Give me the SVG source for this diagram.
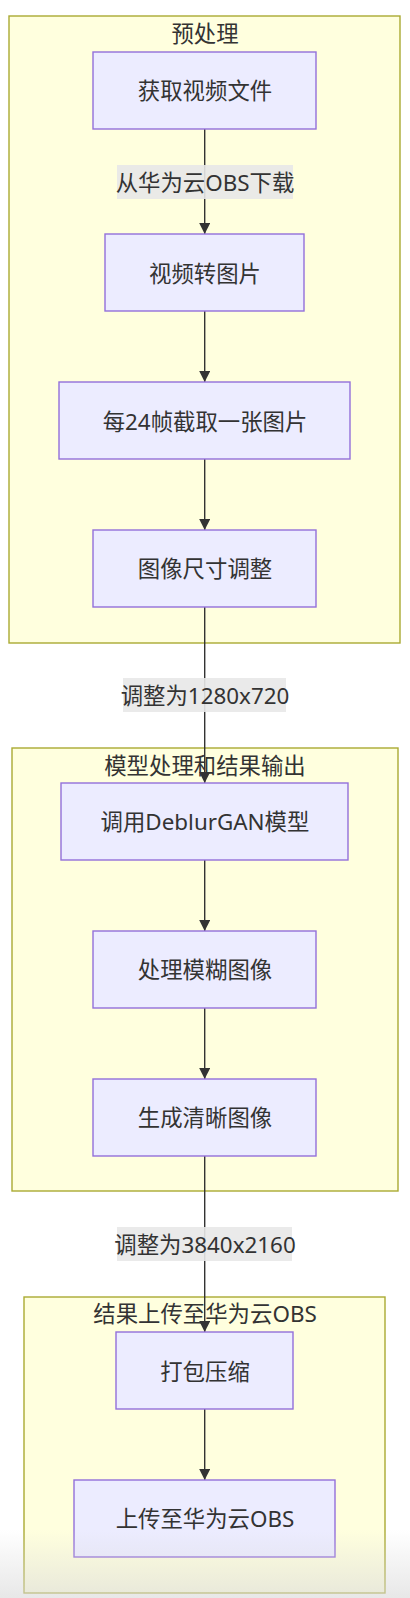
<svg xmlns="http://www.w3.org/2000/svg" width="410" height="1598" viewBox="0 0 410 1598">
<style>
.cluster{fill:#ffffde;stroke:#aaaa33;stroke-width:1.4}
.node rect{fill:#ececff;stroke:#9370db;stroke-width:1.4}
text{font-family:"Noto Sans","Noto Sans CJK SC",sans-serif;font-size:22.4px;fill:#333333;text-anchor:middle;dominant-baseline:central}
.edge{stroke:#333333;stroke-width:1.4;fill:none}
.lblbg{fill:#e8e8e8;opacity:0.9}
</style>
<defs>
<marker id="arr" viewBox="0 0 12 12" refX="12" refY="6" markerWidth="11" markerHeight="11" markerUnits="userSpaceOnUse" orient="auto">
<path d="M0,0 L12,6 L0,12 z" fill="#333333"/>
</marker>
<linearGradient id="shade" x1="0" y1="0" x2="0" y2="1">
<stop offset="0" stop-color="#d8d8d8" stop-opacity="0"/>
<stop offset="1" stop-color="#d8d8d8" stop-opacity="0.6"/>
</linearGradient>
</defs>

<g id="cluster-preprocess">
<rect class="cluster" x="9" y="16" width="391" height="627"/>
<text x="205" y="33">预处理</text>
</g>
<g id="cluster-model">
<rect class="cluster" x="12" y="748" width="386" height="443"/>
<text x="205" y="765">模型处理和结果输出</text>
</g>
<g id="cluster-upload">
<rect class="cluster" x="24" y="1297" width="361" height="296"/>
<text x="205" y="1313">结果上传至华为云OBS</text>
</g>

<g id="connectors">
<line class="edge" x1="204.7" y1="129" x2="204.7" y2="234" marker-end="url(#arr)"/>
<line class="edge" x1="204.7" y1="311" x2="204.7" y2="382" marker-end="url(#arr)"/>
<line class="edge" x1="204.7" y1="459" x2="204.7" y2="530" marker-end="url(#arr)"/>
<line class="edge" x1="204.7" y1="607" x2="204.7" y2="783" marker-end="url(#arr)"/>
<line class="edge" x1="204.7" y1="860" x2="204.7" y2="931" marker-end="url(#arr)"/>
<line class="edge" x1="204.7" y1="1008" x2="204.7" y2="1079" marker-end="url(#arr)"/>
<line class="edge" x1="204.7" y1="1156" x2="204.7" y2="1332" marker-end="url(#arr)"/>
<line class="edge" x1="204.7" y1="1409" x2="204.7" y2="1480" marker-end="url(#arr)"/>
<g id="label-download">
<rect class="lblbg" x="117" y="165" width="176" height="34"/>
<text x="205" y="182">从华为云OBS下载</text>
</g>
<g id="label-1280">
<rect class="lblbg" x="123" y="678" width="163" height="34"/>
<text x="205" y="695">调整为1280x720</text>
</g>
<g id="label-3840">
<rect class="lblbg" x="117" y="1227" width="175" height="34"/>
<text x="205" y="1244">调整为3840x2160</text>
</g>
</g>

<g id="n1" class="node"><rect x="93" y="52" width="223" height="77"/><text x="205" y="90">获取视频文件</text></g>
<g id="n2" class="node"><rect x="105" y="234" width="199" height="77"/><text x="205" y="273">视频转图片</text></g>
<g id="n3" class="node"><rect x="59" y="382" width="291" height="77"/><text x="205" y="421">每24帧截取一张图片</text></g>
<g id="n4" class="node"><rect x="93" y="530" width="223" height="77"/><text x="205" y="568">图像尺寸调整</text></g>
<g id="n5" class="node"><rect x="61" y="783" width="287" height="77"/><text x="205" y="821">调用DeblurGAN模型</text></g>
<g id="n6" class="node"><rect x="93" y="931" width="223" height="77"/><text x="205" y="969">处理模糊图像</text></g>
<g id="n7" class="node"><rect x="93" y="1079" width="223" height="77"/><text x="205" y="1117">生成清晰图像</text></g>
<g id="n8" class="node"><rect x="116" y="1332" width="177" height="77"/><text x="205" y="1371">打包压缩</text></g>
<g id="n9" class="node"><rect x="74" y="1480" width="261" height="77"/><text x="205" y="1518">上传至华为云OBS</text></g>

<rect x="0" y="1530" width="410" height="68" fill="url(#shade)"/>
</svg>
